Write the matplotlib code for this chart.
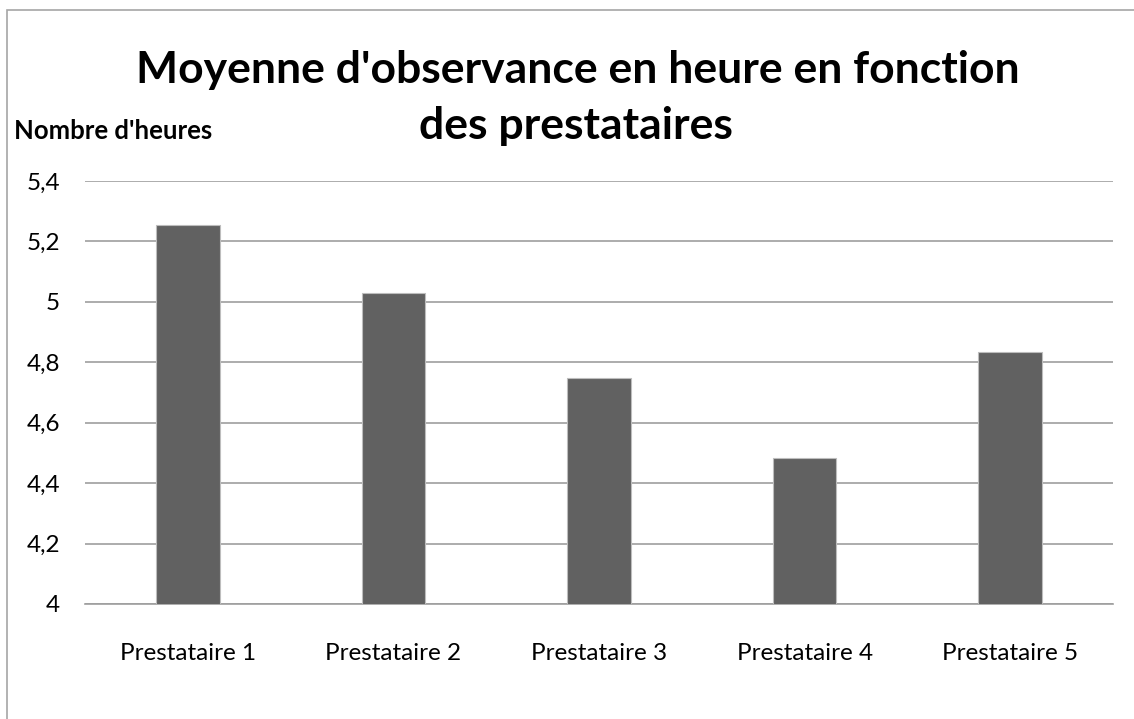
import matplotlib.pyplot as plt
from matplotlib.patches import Rectangle

categories = ["Prestataire 1", "Prestataire 2", "Prestataire 3", "Prestataire 4", "Prestataire 5"]
values = [5.255, 5.028, 4.749, 4.482, 4.835]
yticks = [4, 4.2, 4.4, 4.6, 4.8, 5, 5.2, 5.4]
ytick_labels = ["4", "4,2", "4,4", "4,6", "4,8", "5", "5,2", "5,4"]

plt.rcParams["font.family"] = ["Lato", "DejaVu Sans"]

fig = plt.figure(figsize=(11.34, 7.19), dpi=100)
ax = fig.add_axes([85 / 1134, 1 - 604 / 719, (1113 - 85) / 1134, (604 - 181) / 719])

# outer chart border
fig.patches.append(Rectangle((7 / 1134, -0.05), 1.1, 1 - 10 / 719 + 0.05,
                             transform=fig.transFigure, fill=False,
                             edgecolor="#a6a6a6", linewidth=1.2))

x = range(len(categories))
ax.bar(x, values, width=0.31, color="#616161", edgecolor="#bdbdbd", linewidth=0.8, zorder=3)

ax.set_ylim(4, 5.4)
ax.set_xlim(-0.5, len(categories) - 0.5)
ax.set_yticks(yticks)
ax.set_yticklabels(ytick_labels, fontsize=17.5)
ax.set_xticks(list(x))
ax.set_xticklabels(categories, fontsize=17.5)
ax.tick_params(axis="y", length=0, pad=18)
ax.tick_params(axis="x", length=0, pad=28)
ax.yaxis.grid(True, color="#9e9e9e", linewidth=1.2, zorder=0)
for s in ["top", "right", "left"]:
    ax.spines[s].set_visible(False)
ax.spines["bottom"].set_color("#9e9e9e")
ax.spines["bottom"].set_linewidth(1.2)

fig.text(578 / 1134, 1 - 70 / 719, "Moyenne d'observance en heure en fonction",
         ha="center", va="center", fontsize=32, fontweight="bold")
fig.text(576 / 1134, 1 - 126 / 719, "des prestataires",
         ha="center", va="center", fontsize=32, fontweight="bold")
fig.text(14 / 1134, 1 - 131 / 719, "Nombre d'heures",
         ha="left", va="center", fontsize=18.5, fontweight="bold")

fig.savefig("out.png", dpi=100)
